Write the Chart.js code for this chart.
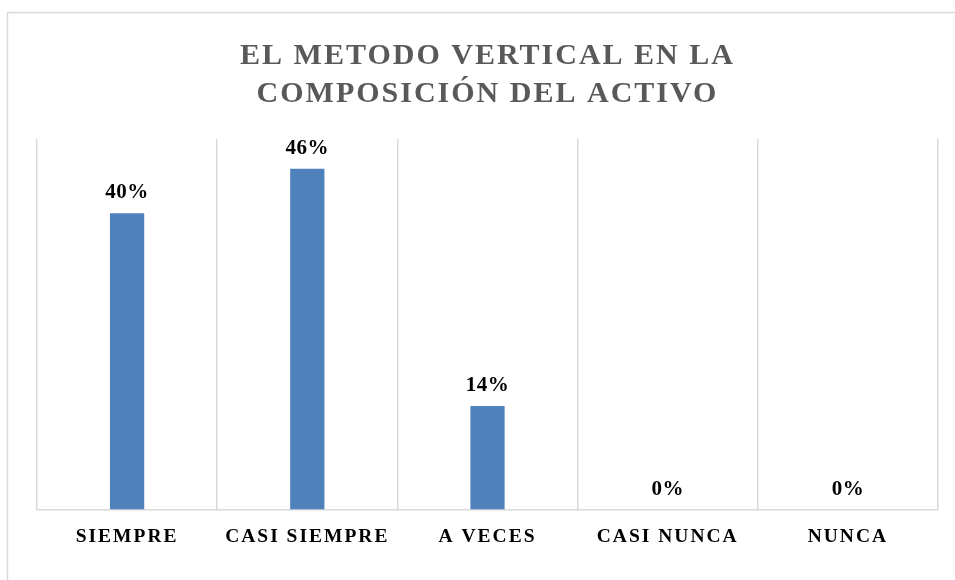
<!DOCTYPE html>
<html>
<head>
<meta charset="utf-8">
<script src="https://cdn.jsdelivr.net/npm/chart.js@4.4.1/dist/chart.umd.min.js"></script>
<style>
  body { margin: 0; background: #fff; }
</style>
</head>
<body>
<canvas id="myChart" width="955" height="580"></canvas>
<script>
var categories = ['SIEMPRE', 'CASI SIEMPRE', 'A VECES', 'CASI NUNCA', 'NUNCA'];
var percentValues = [40, 46, 14, 0, 0];
var titleLines = ['EL METODO VERTICAL EN LA', 'COMPOSICIÓN DEL ACTIVO'];

var element = document.getElementById('myChart').getContext('2d');

// spacing between letters for title and axis labels
var spacingPlugin = {
    id: 'spacing',
    beforeLayout: function (chart) { chart.ctx.letterSpacing = '2px'; },
    beforeDraw: function (chart) {
        var ctx = chart.ctx;
        ctx.letterSpacing = '2px';
        // outer frame of the chart
        ctx.save();
        ctx.strokeStyle = '#d9d9d9';
        ctx.lineWidth = 1.5;
        ctx.strokeRect(7.5, 12.5, 1000, 1000);
        ctx.restore();
    }
};

// percentage labels above the bars
var valueLabels = {
    id: 'valueLabels',
    afterDatasetsDraw: function (chart) {
        var ctx = chart.ctx;
        var meta = chart.getDatasetMeta(0);
        ctx.save();
        ctx.letterSpacing = '0.5px';
        ctx.font = 'bold 21px "Liberation Serif"';
        ctx.fillStyle = '#000';
        ctx.textAlign = 'center';
        ctx.textBaseline = 'alphabetic';
        meta.data.forEach(function (bar, i) {
            ctx.fillText(percentValues[i] + '%', bar.x, bar.y - 15);
        });
        ctx.restore();
        // x tick labels are drawn after this (z: 1), a bit wider
        ctx.letterSpacing = '3.5px';
    }
};

var chartData = {
    labels: categories,
    datasets: [{
        data: percentValues,
        backgroundColor: '#4f81bd',
        borderWidth: 0,
        categoryPercentage: 1,
        barPercentage: 0.19
    }]
};

var chartOptions = {
    responsive: false,
    animation: false,
    layout: { padding: { left: 37, right: 17, top: 0, bottom: 15 } },
    plugins: {
        legend: { display: false },
        tooltip: { enabled: false },
        title: {
            display: true,
            text: titleLines,
            color: '#595959',
            font: { family: '"Liberation Serif"', size: 30, weight: 'bold', lineHeight: 1.27 },
            padding: { top: 37, bottom: 26 }
        }
    },
    scales: {
        x: {
            z: 1,
            grid: { display: true, offset: true, color: '#d9d9d9', lineWidth: 1.5, drawTicks: false, z: -1 },
            border: { display: true, color: '#d9d9d9', width: 1.5, z: 0 },
            ticks: {
                color: '#000',
                padding: 16,
                maxRotation: 0,
                minRotation: 0,
                autoSkip: false,
                font: { family: '"Liberation Serif"', size: 19.5, weight: 'bold' }
            }
        },
        y: {
            display: false,
            min: 0,
            max: 50
        }
    }
};

var chart = new Chart(element, {
    type: 'bar',
    data: chartData,
    options: chartOptions,
    plugins: [spacingPlugin, valueLabels]
});
</script>
</body>
</html>
